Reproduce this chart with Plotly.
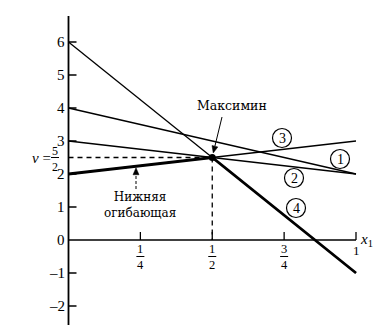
import plotly.graph_objects as go
import numpy as np

# ---- data ----
strategies = ["1", "2", "3", "4"]
payoff_at_x0 = [4, 3, 2, 6]      # expected payoff when x1 = 0
payoff_at_x1 = [2, 2, 3, -1]     # expected payoff when x1 = 1
x_ends = [0, 1]
maximin_x = 0.5
maximin_v = 2.5
y_ticks = [-2, -1, 0, 1, 2, 3, 4, 5, 6]
y_tick_labels = ["–2", "–1", "0", "1", "2", "3", "4", "5", "6"]
x_ticks = [0.25, 0.5, 0.75, 1]
x_tick_num = ["1", "1", "3", "1"]
x_tick_den = ["4", "2", "4", ""]

# ---- pixel helpers (layout only) ----
X0PX, XS, Y0PX, YS = 68.5, 287.5, 240.0, 33.0
W, H = 386, 330


def dx(px):
    return (px - X0PX) / XS


def dy(py):
    return (Y0PX - py) / YS


def to_px(x, y):
    return X0PX + x * XS, Y0PX - y * YS


SERIF = "Liberation Serif"
CYR = "DejaVu Serif"
fig = go.Figure()

# strategy lines
for a, b in zip(payoff_at_x0, payoff_at_x1):
    fig.add_trace(go.Scatter(x=x_ends, y=[a, b], mode="lines",
                             line=dict(color="black", width=1.3),
                             hoverinfo="skip", showlegend=False))

# lower envelope
env_x = np.array([0, maximin_x, 1])
env_y = np.min([np.interp(env_x, x_ends, [a, b])
                for a, b in zip(payoff_at_x0, payoff_at_x1)], axis=0)
fig.add_trace(go.Scatter(x=env_x, y=env_y, mode="lines",
                         line=dict(color="black", width=2.8),
                         hoverinfo="skip", showlegend=False))

# dashed guides
fig.add_trace(go.Scatter(x=[0, maximin_x], y=[maximin_v, maximin_v], mode="lines",
                         line=dict(color="black", width=1.3, dash="5px,4px"),
                         hoverinfo="skip", showlegend=False))
fig.add_trace(go.Scatter(x=[maximin_x, maximin_x], y=[maximin_v, 0], mode="lines",
                         line=dict(color="black", width=1.3, dash="5px,4px"),
                         hoverinfo="skip", showlegend=False))

# maximin dot
fig.add_trace(go.Scatter(x=[maximin_x], y=[maximin_v], mode="markers",
                         marker=dict(color="black", size=7),
                         hoverinfo="skip", showlegend=False))

shapes = []
# axes
shapes.append(dict(type="line", x0=0, x1=0, y0=dy(325), y1=dy(16),
                   line=dict(color="black", width=1.8)))
shapes.append(dict(type="line", x0=0, x1=1, y0=0, y1=0,
                   line=dict(color="black", width=1.5)))
for t in y_ticks:
    if t == 0:
        continue
    shapes.append(dict(type="line", x0=0, x1=dx(X0PX + 8), y0=t, y1=t,
                       line=dict(color="black", width=1.5)))
for t in x_ticks:
    shapes.append(dict(type="line", x0=t, x1=t, y0=0, y1=8 / YS,
                       line=dict(color="black", width=1.3)))

annotations = []
for t, lab in zip(y_ticks, y_tick_labels):
    annotations.append(dict(x=dx(66.5), y=t, text=lab, showarrow=False,
                            xanchor="right", yanchor="middle",
                            font=dict(family=SERIF, size=15, color="black")))

for t, n, d in zip(x_ticks, x_tick_num, x_tick_den):
    if d:
        annotations.append(dict(x=t, y=dy(256.8), text=n + "<br>" + d, showarrow=False,
                                xanchor="center", yanchor="middle", borderpad=0,
                                font=dict(family=SERIF, size=12.5, color="black")))
        shapes.append(dict(type="line", x0=t - 4 / XS, x1=t + 4 / XS,
                           y0=dy(256.5), y1=dy(256.5),
                           line=dict(color="black", width=1)))
    else:
        annotations.append(dict(x=t, y=dy(250), text=n, showarrow=False,
                                xanchor="center", yanchor="middle",
                                font=dict(family=SERIF, size=13, color="black")))

# x1 axis label
annotations.append(dict(x=dx(366), y=dy(240), text="<i>x</i><sub>1</sub>",
                        showarrow=False, xanchor="center", yanchor="middle",
                        font=dict(family=SERIF, size=15, color="black")))

# v = 5/2 label
annotations.append(dict(x=dx(41), y=maximin_v, text="<i>v</i> =", showarrow=False,
                        xanchor="center", yanchor="middle",
                        font=dict(family=SERIF, size=15, color="black")))
annotations.append(dict(x=dx(55), y=dy(158.5), text="5<br>2", showarrow=False,
                        xanchor="center", yanchor="middle", borderpad=0,
                        font=dict(family=SERIF, size=12, color="black")))
shapes.append(dict(type="line", x0=dx(51), x1=dx(59), y0=maximin_v, y1=maximin_v,
                   line=dict(color="black", width=1)))

# circled strategy numbers
label_px = {"1": (340, 159), "2": (294, 178), "3": (282, 138), "4": (296, 208)}
for s in strategies:
    px, py = label_px[s]
    shapes.append(dict(type="circle", xref="x", yref="y",
                       xsizemode="pixel", ysizemode="pixel",
                       xanchor=dx(px), yanchor=dy(py),
                       x0=-9.5, x1=9.5, y0=-9.5, y1=9.5,
                       line=dict(color="black", width=1.2)))
    annotations.append(dict(x=dx(px), y=dy(py), text=s, showarrow=False,
                            xanchor="center", yanchor="middle",
                            font=dict(family=SERIF, size=14, color="black")))


def arrow(tail_px, tip_px, dash=None, head_len=7.0, half_w=3.0):
    tx, ty = tail_px
    hx, hy = tip_px
    ux, uy = hx - tx, hy - ty
    L = (ux ** 2 + uy ** 2) ** 0.5
    ux, uy = ux / L, uy / L
    bx, by = hx - head_len * ux, hy - head_len * uy
    px_, py_ = -uy, ux
    shapes.append(dict(type="line", x0=dx(tx), y0=dy(ty), x1=dx(bx), y1=dy(by),
                       line=dict(color="black", width=1, dash=dash or "solid")))
    pts = [(hx, hy), (bx + half_w * px_, by + half_w * py_), (bx - half_w * px_, by - half_w * py_)]
    path = "M " + " L ".join(f"{dx(a):.5f},{dy(b):.5f}" for a, b in pts) + " Z"
    shapes.append(dict(type="path", path=path, fillcolor="black",
                       line=dict(color="black", width=0.5)))


# Максимин label and arrow
annotations.append(dict(x=dx(232), y=dy(105), text="Максимин", showarrow=False,
                        xanchor="center", yanchor="middle",
                        font=dict(family=CYR, size=12.5, color="black")))
mx_px, my_px = to_px(maximin_x, maximin_v)
arrow((222, 117), (mx_px + 1.0, my_px - 4.5))

# Нижняя огибающая label and arrow
annotations.append(dict(x=dx(139.5), y=dy(204.5), text="Нижняя<br>огибающая",
                        showarrow=False, xanchor="center", yanchor="middle", borderpad=0,
                        font=dict(family=CYR, size=12, color="black")))
env_px = to_px(dx(136), float(np.interp(dx(136), env_x, env_y)))
arrow((136, 189), (136, env_px[1] + 1.5), dash="3px,2px")

fig.update_layout(
    width=W, height=H, autosize=False,
    margin=dict(l=0, r=0, t=0, b=0),
    paper_bgcolor="white", plot_bgcolor="white",
    xaxis=dict(range=[dx(0), dx(W)], visible=False, fixedrange=True),
    yaxis=dict(range=[dy(H), dy(0)], visible=False, fixedrange=True),
    shapes=shapes, annotations=annotations,
)

fig.write_html("out.html")
